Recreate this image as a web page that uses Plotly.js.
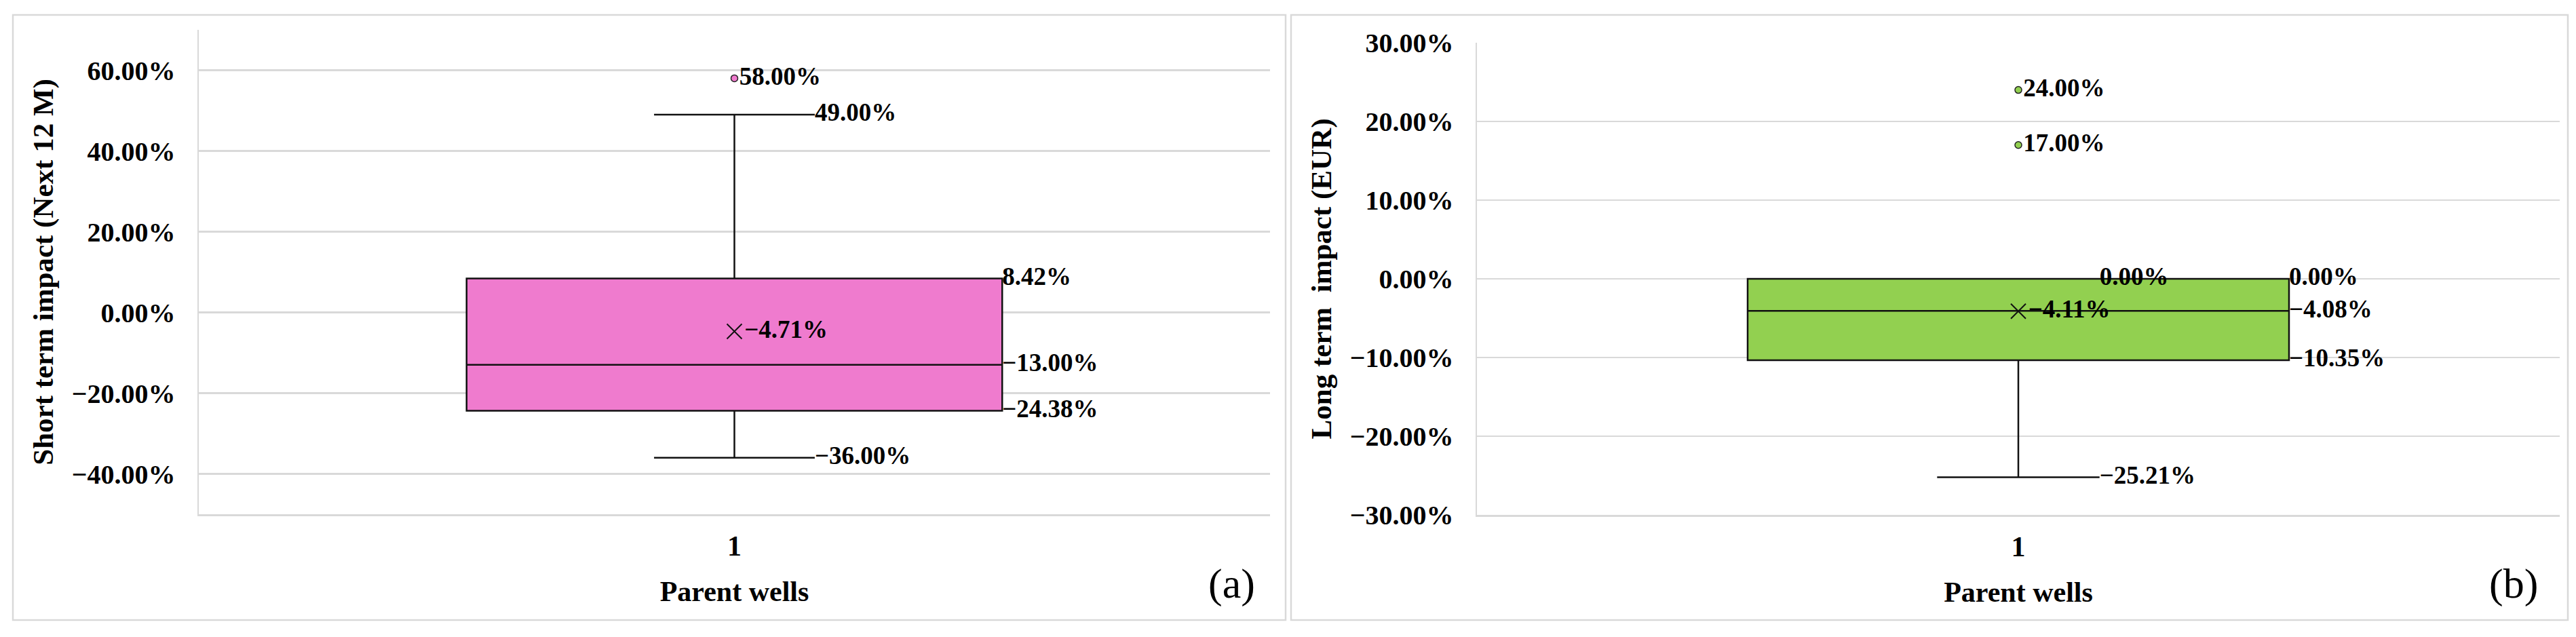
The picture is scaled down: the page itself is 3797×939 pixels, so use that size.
<!DOCTYPE html>
<html>
<head>
<meta charset="utf-8">
<script src="https://cdn.plot.ly/plotly-3.0.1.min.js"></script>
<style>html,body{margin:0;padding:0;background:#fff;}#chart{width:3797px;height:939px;}</style>
</head>
<body>
<div id="chart"></div>
<script>
// ---- data ----
const categories = ['1'];
const xTitles = ['Parent wells', 'Parent wells'];
const yTitles = ['Short term impact (Next 12 M)', 'Long term\u00a0 impact (EUR)'];
const panelLabels = ['(a)', '(b)'];
// [lowerfence, q1, median, q3, upperfence]
const shortTermStats = [-0.36, -0.2438, -0.13, 0.0842, 0.49];
const longTermStats = [-0.2521, -0.1035, -0.0408, 0.0, 0.0];
const shortTermMean = [-0.0471];
const longTermMean = [-0.0411];
const shortTermOutliers = [0.58];
const longTermOutliers = [0.24, 0.17];
const shortTicks = [-0.4, -0.2, 0.0, 0.2, 0.4, 0.6];
const longTicks = [-0.3, -0.2, -0.1, 0.0, 0.1, 0.2, 0.3];
const shortRange = [-0.5, 0.7];
const longRange = [-0.3, 0.3];

// ---- styling ----
const W = 3797, H = 939;
const pink = '#EF7BCE', green = '#92D050';
const lineCol = '#111111';
const grid = '#D9D9D9';
const serif = 'Liberation Serif, Times New Roman, serif';
const boxWidth = 0.5, whiskerFrac = 0.3;

function fmt(v) {
  const s = (Math.abs(v) * 100).toFixed(2) + '%';
  return (v < -1e-12 ? '\u2212' : '') + s;
}

const pos = Number(categories[0]);
function panelTraces(stats, mean, outliers, color, xa, ya) {
  const labelFont = {family: serif, size: 37, color: '#000', weight: 'bold'};
  const capX = pos + boxWidth * whiskerFrac / 2;
  const edgeX = pos + boxWidth / 2;
  return [
    {
      type: 'box', x: [pos], xaxis: xa, yaxis: ya,
      lowerfence: [stats[0]], q1: [stats[1]], median: [stats[2]], q3: [stats[3]], upperfence: [stats[4]],
      width: boxWidth, whiskerwidth: whiskerFrac,
      fillcolor: color, line: {color: lineCol, width: 2.5},
      boxpoints: false, hoverinfo: 'skip', showlegend: false
    },
    {
      type: 'scatter', mode: 'markers+text', xaxis: xa, yaxis: ya,
      x: outliers.map(() => pos), y: outliers, text: outliers.map(fmt),
      textposition: 'middle right', textfont: labelFont, cliponaxis: false,
      marker: {size: 10, color: color, line: {color: '#222', width: 1.5}},
      hoverinfo: 'skip', showlegend: false
    },
    {
      type: 'scatter', mode: 'markers+text', xaxis: xa, yaxis: ya,
      x: mean.map(() => pos), y: mean, text: mean.map(fmt),
      textposition: 'middle right', textfont: labelFont, cliponaxis: false,
      marker: {symbol: 'x-thin', size: 22, color: lineCol, line: {color: lineCol, width: 2}},
      hoverinfo: 'skip', showlegend: false
    },
    {
      type: 'scatter', mode: 'text', xaxis: xa, yaxis: ya,
      x: [capX, capX], y: [stats[4], stats[0]], text: [fmt(stats[4]), fmt(stats[0])],
      textposition: 'middle right', textfont: labelFont, cliponaxis: false,
      marker: {size: 1}, hoverinfo: 'skip', showlegend: false
    },
    {
      type: 'scatter', mode: 'text', xaxis: xa, yaxis: ya,
      x: [edgeX, edgeX, edgeX], y: [stats[3], stats[2], stats[1]],
      text: [fmt(stats[3]), fmt(stats[2]), fmt(stats[1])],
      textposition: 'middle right', textfont: labelFont, cliponaxis: false,
      marker: {size: 1}, hoverinfo: 'skip', showlegend: false
    }
  ];
}

const data = [].concat(
  panelTraces(shortTermStats, shortTermMean, shortTermOutliers, pink, 'x', 'y'),
  panelTraces(longTermStats, longTermMean, longTermOutliers, green, 'x2', 'y2')
);

const tickFont = {family: serif, size: 40, color: '#000', weight: 'bold'};
const yTitleFont = {family: serif, size: 43, color: '#000', weight: 'bold'};
const xTitleFont = {family: serif, size: 42, color: '#000', weight: 'bold'};
function xAxis(dom, title, anchor) {
  return {
    domain: dom, anchor: anchor, range: [pos - 0.5, pos + 0.5], tickvals: [pos], ticktext: categories,
    showgrid: false, zeroline: false, showline: true, linecolor: grid, linewidth: 2.5,
    ticks: '', ticklabelstandoff: 8, tickfont: {family: serif, size: 42, color: '#000', weight: 'bold'},
    title: {text: title, font: xTitleFont, standoff: 30}, fixedrange: true
  };
}
function yAxis(dom, range, ticks, title, anchor) {
  return {
    domain: dom, anchor: anchor, range: range, tickvals: ticks, tickformat: '.2%',
    showgrid: true, gridcolor: grid, gridwidth: 2.5, zeroline: false,
    showline: true, linecolor: grid, linewidth: 2.5,
    ticks: '', ticklabelstandoff: 24, tickfont: tickFont,
    title: {text: title, font: yTitleFont, standoff: 14}, fixedrange: true
  };
}

const layout = {
  width: W, height: H, margin: {l: 0, r: 0, t: 0, b: 0},
  paper_bgcolor: '#fff', plot_bgcolor: '#fff',
  font: {family: serif, color: '#000'},
  showlegend: false,
  xaxis: xAxis([293 / W, 1872 / W], xTitles[0], 'y'),
  yaxis: yAxis([1 - 758 / H, 1 - 44 / H], shortRange, shortTicks, yTitles[0], 'x'),
  xaxis2: xAxis([2177 / W, 3773 / W], xTitles[1], 'y2'),
  yaxis2: yAxis([1 - 759 / H, 1 - 63 / H], longRange, longTicks, yTitles[1], 'x2'),
  shapes: [
    {type: 'rect', xref: 'paper', yref: 'paper', x0: 19 / W, x1: 1895 / W, y0: 1 - 914 / H, y1: 1 - 22 / H,
     line: {color: grid, width: 2.5}, fillcolor: 'rgba(0,0,0,0)'},
    {type: 'rect', xref: 'paper', yref: 'paper', x0: 1903 / W, x1: 3785 / W, y0: 1 - 914 / H, y1: 1 - 22 / H,
     line: {color: grid, width: 2.5}, fillcolor: 'rgba(0,0,0,0)'}
  ],
  annotations: [
    {xref: 'paper', yref: 'paper', x: 1815 / W, y: 1 - 860 / H, text: panelLabels[0], showarrow: false,
     font: {family: serif, size: 62, color: '#000'}, xanchor: 'center', yanchor: 'middle'},
    {xref: 'paper', yref: 'paper', x: 3705 / W, y: 1 - 860 / H, text: panelLabels[1], showarrow: false,
     font: {family: serif, size: 62, color: '#000'}, xanchor: 'center', yanchor: 'middle'}
  ]
};

Plotly.newPlot('chart', data, layout, {staticPlot: true, displayModeBar: false});
</script>
</body>
</html>
